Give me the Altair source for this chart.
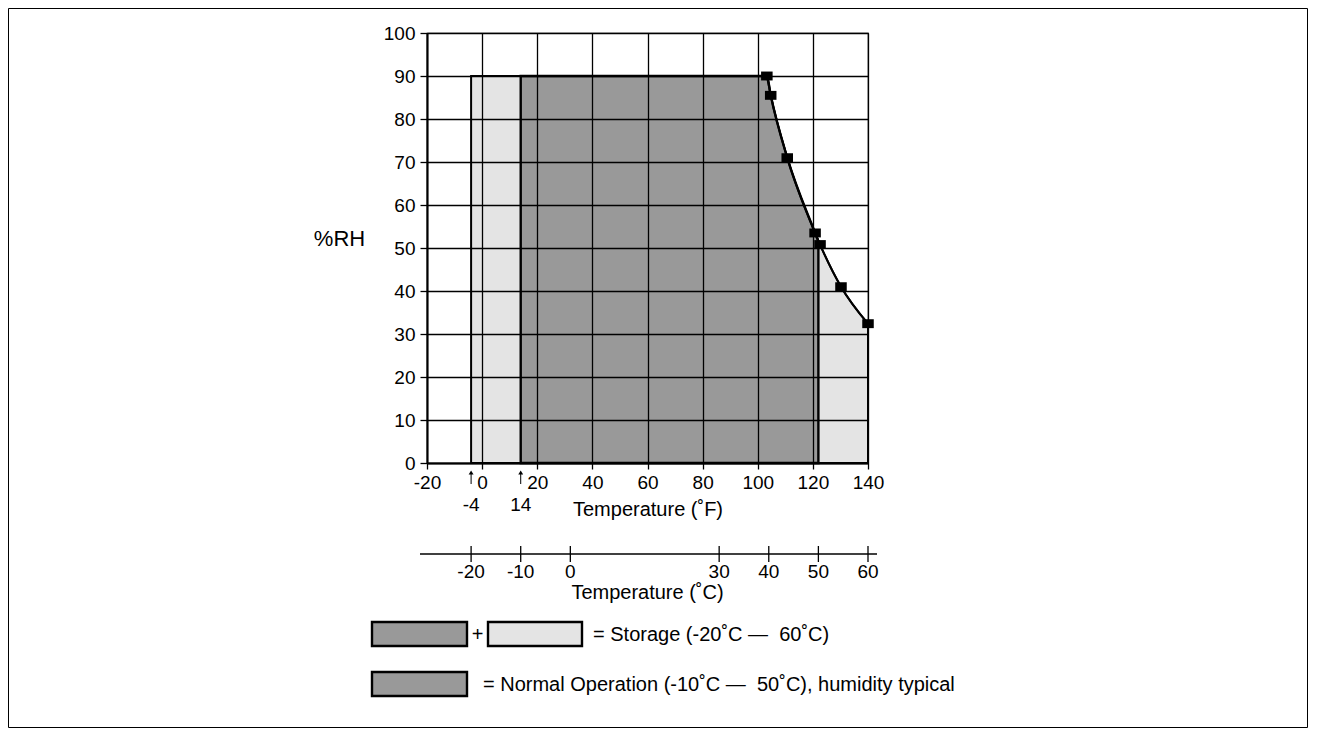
import altair as alt
import pandas as pd

FONT = "Liberation Sans"
DARK = "#999999"
LIGHT = "#e4e4e4"
BLACK = "#000000"

# ---------------- data ----------------
curve_temp_f = [103.3, 104.7, 110.7, 120.8, 122.6, 130.2, 140.0]
curve_rh = [90.0, 85.5, 71.0, 53.5, 50.8, 41.0, 32.4]

storage_start_f = -4
operation_start_f = 14
operation_end_f = 122
operation_end_rh = 51.5
rh_limit = 90

f_ticks = [-20, 0, 20, 40, 60, 80, 100, 120, 140]
rh_ticks = [0, 10, 20, 30, 40, 50, 60, 70, 80, 90, 100]
celsius_ticks = [-20, -10, 0, 30, 40, 50, 60]
marked_f = [-4, 14]
marked_labels = ["-4", "14"]

title_f = "Temperature (˚F)"
title_c = "Temperature (˚C)"
title_rh = "%RH"
legend_storage = "= Storage (-20˚C —\u00a0 60˚C)"
legend_normal = "= Normal Operation (-10˚C —\u00a0 50˚C), humidity typical"

# ---------------- tables ----------------
light_df = pd.DataFrame({"f": [storage_start_f] + curve_temp_f,
                         "rh": [rh_limit] + curve_rh})
dark_pts = [(operation_start_f, rh_limit)] + \
    [(t, r) for t, r in zip(curve_temp_f, curve_rh) if t < operation_end_f] + \
    [(operation_end_f, operation_end_rh)]
dark_df = pd.DataFrame(dark_pts, columns=["f", "rh"])
curve_df = pd.DataFrame({"f": curve_temp_f, "rh": curve_rh})
mark_df = pd.DataFrame({"f": marked_f, "label": marked_labels})
c_df = pd.DataFrame({"c": celsius_ticks,
                     "f": [c * 9 / 5 + 32 for c in celsius_ticks],
                     "label": [str(c) for c in celsius_ticks]})
one = pd.DataFrame({"k": [0]})

x_scale = alt.Scale(domain=[-20, 140], nice=False, zero=False)
y_scale = alt.Scale(domain=[0, 100], nice=False)

x_axis = alt.Axis(values=f_ticks, grid=True, gridColor=BLACK, gridWidth=1.3, gridOpacity=1,
                  domainColor=BLACK, domainWidth=2, tickColor=BLACK, tickSize=6, tickWidth=1.3,
                  labelFont=FONT, labelFontSize=19, labelColor=BLACK, labelBaseline="alphabetic",
                  labelPadding=19, labelExpr="'' + datum.value", labelFlush=False, labelOverlap=False,
                  title=title_f, titleFont=FONT, titleFontSize=20, titleFontWeight="normal",
                  titleColor=BLACK, titleBaseline="alphabetic", titleY=52, zindex=1)
y_axis = alt.Axis(values=rh_ticks, grid=True, gridColor=BLACK, gridWidth=1.3, gridOpacity=1,
                  domainColor=BLACK, domainWidth=2, tickColor=BLACK, tickSize=7, tickWidth=1.3,
                  labelFont=FONT, labelFontSize=19, labelColor=BLACK, labelBaseline="middle",
                  labelPadding=5, labelOverlap=False, labelFlush=False,
                  title=title_rh, titleFont=FONT, titleFontSize=22, titleFontWeight="normal",
                  titleColor=BLACK, titleAngle=0, titleX=-88, titleY=212, titleAlign="center",
                  titleBaseline="alphabetic", zindex=1)

X = alt.X("f:Q", scale=x_scale, axis=x_axis)
Y = alt.Y("rh:Q", scale=y_scale, axis=y_axis)

light = alt.Chart(light_df).mark_area(interpolate="monotone", fill=LIGHT, fillOpacity=1,
                                      stroke=BLACK, strokeWidth=2).encode(x=X, y=Y)
dark = alt.Chart(dark_df).mark_area(interpolate="monotone", fill=DARK, fillOpacity=1,
                                    stroke=BLACK, strokeWidth=2.4).encode(x=X, y=Y)
line = alt.Chart(curve_df).mark_line(interpolate="monotone", color=BLACK, strokeWidth=2).encode(x=X, y=Y)
squares = alt.Chart(curve_df).mark_point(shape="M-1.1,-0.85H1.1V0.85H-1.1Z", size=110, filled=True,
                                         fill=BLACK, opacity=1, strokeWidth=0).encode(x=X, y=Y)

# arrows and labels at -4 and 14 F
arr_rule = alt.Chart(mark_df).mark_rule(color=BLACK, strokeWidth=1).encode(
    x=X, y=alt.value(440), y2=alt.value(451))
arr_head = alt.Chart(mark_df).mark_point(shape="triangle-up", size=24, filled=True, fill=BLACK,
                                         opacity=1, strokeWidth=0).encode(x=X, y=alt.value(439.5))
arr_text = alt.Chart(mark_df).mark_text(font=FONT, fontSize=19, color=BLACK, baseline="alphabetic",
                                        align="center").encode(x=X, y=alt.value(478), text="label:N")

# Celsius scale below
c_line = alt.Chart(one).mark_rule(color=BLACK, strokeWidth=1.3).encode(
    x=alt.value(-7), x2=alt.value(450), y=alt.value(521))
c_ticks = alt.Chart(c_df).mark_rule(color=BLACK, strokeWidth=1.3).encode(
    x=X, y=alt.value(513), y2=alt.value(529))
c_labels = alt.Chart(c_df).mark_text(font=FONT, fontSize=19, color=BLACK, baseline="alphabetic",
                                     align="center").encode(x=X, y=alt.value(545), text="label:N")
c_title = alt.Chart(one).mark_text(text=title_c, font=FONT, fontSize=20, color=BLACK,
                                   baseline="alphabetic", align="center").encode(
    x=alt.value(220.5), y=alt.value(566))


def box(x1, x2, y1, y2, fill):
    return alt.Chart(one).mark_rect(fill=fill, fillOpacity=1, stroke=BLACK, strokeWidth=2.4).encode(
        x=alt.value(x1), x2=alt.value(x2), y=alt.value(y1), y2=alt.value(y2))


def label(txt, x, y, align="left", size=20):
    return alt.Chart(one).mark_text(text=txt, font=FONT, fontSize=size, color=BLACK,
                                    baseline="alphabetic", align=align).encode(
        x=alt.value(x), y=alt.value(y))


legend = [
    box(-55, 40, 589, 613, DARK),
    label("+", 50.7, 608, "center"),
    box(61, 155, 589, 613, LIGHT),
    label(legend_storage, 166, 608),
    box(-55, 40, 639, 663, DARK),
    label(legend_normal, 56, 658),
]

frame = alt.Chart(one).mark_rect(fillOpacity=0, stroke=BLACK, strokeWidth=1).encode(
    x=alt.value(-418.5), x2=alt.value(880.5), y=alt.value(-24.5), y2=alt.value(694.5))

chart = alt.layer(light, dark, line, squares, arr_rule, arr_head, arr_text,
                  c_line, c_ticks, c_labels, c_title, *legend, frame).properties(
    width=441, height=430,
    padding={"left": 419, "top": 25, "right": 440, "bottom": 265},
    autosize=alt.AutoSizeParams(type="none"),
).configure(font=FONT).configure_view(stroke=BLACK, strokeWidth=1.2)

chart.save("out.html", embed_options={"renderer": "svg", "actions": False})
